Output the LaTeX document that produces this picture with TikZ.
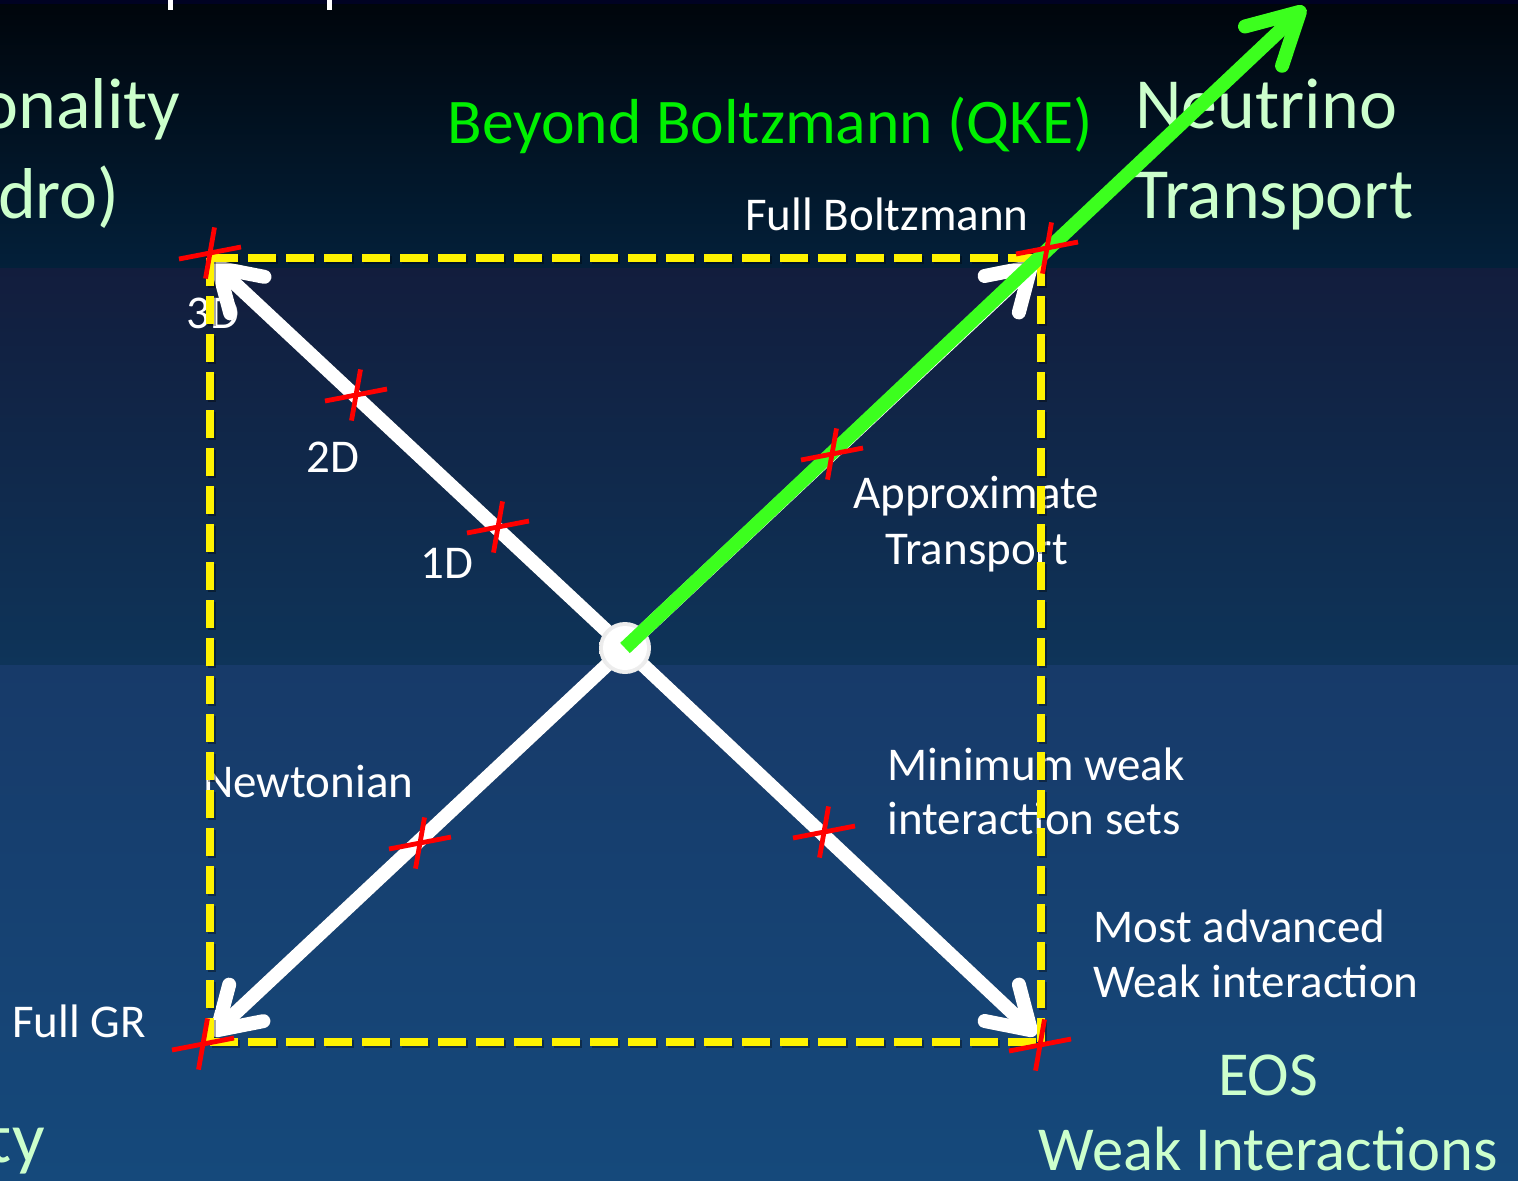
\documentclass[tikz,border=0pt]{standalone}
\usepackage{fontspec}
\setmainfont{Carlito}
\usetikzlibrary{arrows.meta}

\definecolor{lgreen}{HTML}{CCFFCC}
\definecolor{qkegreen}{HTML}{00F000}
\definecolor{arrowgreen}{HTML}{3CFF1E}
\definecolor{bgtopA}{HTML}{00050B}
\definecolor{bgtopB}{HTML}{03203A}
\definecolor{bgmidA}{HTML}{121D3D}
\definecolor{bgmidB}{HTML}{0E3459}
\definecolor{bglowA}{HTML}{173A69}
\definecolor{bglowB}{HTML}{15497B}

\tikzset{
  wlab/.style={text=white, font=\fontsize{23.5pt}{28pt}\selectfont, inner sep=0pt, anchor=base west},
  glab/.style={text=lgreen, font=\fontsize{36pt}{43pt}\selectfont, inner sep=0pt, anchor=base west},
  glabsmall/.style={text=lgreen, font=\fontsize{31.3pt}{37pt}\selectfont, inner sep=0pt, anchor=base},
  qkelab/.style={text=qkegreen, font=\fontsize{31.8pt}{38pt}\selectfont, inner sep=0pt, anchor=base west},
  axisarrow/.style={white, line width=7pt, -{Straight Barb[length=20pt,width=25pt,round]}},
  axisshadow/.style={black, opacity=0.3, line width=7pt, -{Straight Barb[length=20pt,width=25pt,round]}},
  qkearrow/.style={arrowgreen, line width=7pt, -{Straight Barb[length=25pt,width=27pt,round]}},
  frame/.style={yellow, line width=4pt, dash pattern=on 14pt off 5pt},
  frameshadow/.style={black, opacity=0.35, line width=4pt, dash pattern=on 14pt off 5pt},
  crossline/.style={red, line width=2.4pt},
  redx/.pic={
    \draw[crossline] (-31,6) -- (31,-6);
    \draw[crossline] (4.5,-25.6) -- (-4.5,25.6);
  }
}

\begin{document}
\begin{tikzpicture}[x=0.5pt,y=-0.5pt]
\useasboundingbox (0,0) rectangle (1518,1180);
\clip (0,0) rectangle (1518,1180);

% background bands
\shade[top color=bgtopA, bottom color=bgtopB] (0,0) rectangle (1518,268);
\shade[top color=bgmidA, bottom color=bgmidB] (0,268) rectangle (1518,665);
\shade[top color=bglowA, bottom color=bglowB] (0,665) rectangle (1518,1180);
\fill[black!80!blue, opacity=0.6] (0,0) rectangle (1518,4);

% descenders of the line above
\fill[white] (168,0) rectangle (173,10);
\fill[white] (327,0) rectangle (332,10);

% large category labels
\node[glab, anchor=base east] (dimA) at (181,128) {onality};
\node[glab, anchor=base east] (dimB) at (120,218) {dro)};
\node[glab, anchor=base east] (grav) at (45,1162) {ty};
\node[glab] (nuA) at (1135,128) {Neutrino};
\node[glab] (nuB) at (1133,218) {Transport};
\node[glabsmall] (eos) at (1268,1095) {EOS};
\node[glabsmall] (weak) at (1268,1170) {Weak Interactions};
\node[qkelab] (qkelabel) at (447,143) {Beyond Boltzmann (QKE)};

% axis labels
\node[wlab] (fullb) at (745,230) {Full Boltzmann};
\node[wlab] (d3) at (186,328) {3D};
\node[wlab] (d2) at (306,472) {2D};
\node[wlab] (d1) at (420,578) {1D};
\node[wlab] (apA) at (853,508) {Approximate};
\node[wlab] (apB) at (885,564) {Transport};
\node[wlab] (newt) at (203,797) {Newtonian};
\node[wlab] (minA) at (887,780) {Minimum weak};
\node[wlab] (minB) at (887,834) {interaction sets};
\node[wlab] (mostA) at (1093,942) {Most advanced};
\node[wlab] (mostB) at (1093,997) {Weak interaction};
\node[wlab] (fullgr) at (12,1037) {Full GR};

% hub and corner points
\coordinate (hub) at (625,648);
\coordinate (c3d) at (213,263);
\coordinate (cgr) at (212,1035);
\coordinate (cwi) at (1036,1035);
\coordinate (cfb) at (1036,262);
\coordinate (qke) at (1305,7);

% white axes with soft shadow
\begin{scope}[shift={(3,3)}]
  \foreach \c in {c3d,cgr,cwi,cfb} \draw[axisshadow] (hub) -- (\c);
\end{scope}
\foreach \c in {c3d,cgr,cwi,cfb} \draw[axisarrow] (hub) -- (\c);

\shade[inner color=white, outer color=white!92!black] (hub) circle (26);
\node[circle, fill=white, minimum size=22pt, inner sep=0pt] (hubdot) at (hub) {};

% dashed frame
\draw[frameshadow, shift={(2,2)}] (210,258) -- (1041,258);
\draw[frameshadow, shift={(2,2)}] (1041,258) -- (1041,1042);
\draw[frameshadow, shift={(2,2)}] (210,258) -- (210,1042);
\draw[frameshadow, shift={(2,2)}] (210,1042) -- (1041,1042);
\draw[frame] (210,258) -- (1041,258);
\draw[frame] (1041,258) -- (1041,1042);
\draw[frame] (210,258) -- (210,1042);
\draw[frame] (210,1042) -- (1041,1042);

% beyond-Boltzmann direction
\draw[qkearrow] (hub) -- (qke);

% red markers
\foreach \p in {(210,253),(356,395),(498,527),(832,454),(1047,248),(203,1044),(1040,1045),(420,843),(824,832)}
  \pic at \p {redx};
\end{tikzpicture}
\end{document}
